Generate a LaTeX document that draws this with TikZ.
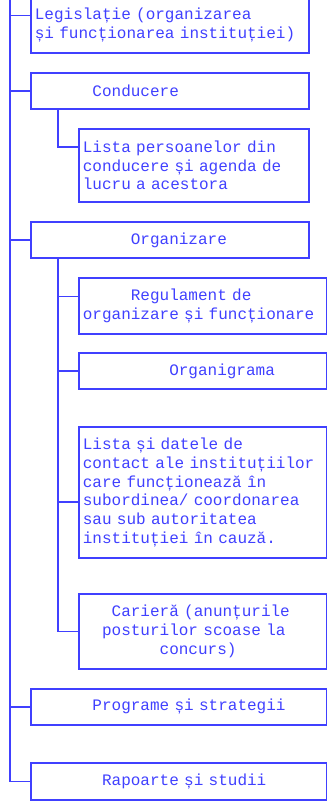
\documentclass[tikz,border=0pt]{standalone}
\usepackage{fontspec}
\setmainfont{Liberation Mono}
\usetikzlibrary{positioning}

\definecolor{ink}{RGB}{64,64,255}
% indent by n monospace characters
\newcommand{\ind}[1]{\hspace*{#1\fontdimen2\font}}

\begin{document}
\begin{tikzpicture}[x=0.75pt, y=-0.75pt,
        box/.style={rectangle, draw=ink, text=ink, line width=1.3pt, anchor=north west,
            inner xsep=3pt, inner ysep=0pt, align=left, font=\fontsize{12}{14}\selectfont},
        link/.style={draw=ink, line width=1.3pt}]

    \useasboundingbox (0,0) rectangle (327,803);

    \node (leg) [box, text width=202.5pt, minimum height=42pt] at (30,-4) {Legislație (organizarea\\și funcționarea instituției)};
    \node (cond) [box, text width=202.5pt, minimum height=27pt] at (30,72) {\ind{6}Conducere};
    \node (lpc) [box, text width=166.5pt, minimum height=54.75pt] at (78,128) {Lista persoanelor din\\conducere și agenda de\\lucru a acestora};
    \node (org) [box, text width=202.5pt, minimum height=27pt] at (30,221) {\ind{10}Organizare};
    \node (reg) [box, text width=180pt, minimum height=42pt] at (78,277) {\ind{5}Regulament de\\organizare și funcționare};
    \node (ogr) [box, text width=180pt, minimum height=27pt] at (78,352) {\ind{9}Organigrama};
    \node (lsd) [box, text width=180pt, minimum height=98.25pt] at (78,426) {Lista și datele de\\contact ale instituțiilor\\care funcționează în\\subordinea/ coordonarea\\sau sub autoritatea\\instituției în cauză.};
    \node (car) [box, text width=180pt, minimum height=56.25pt] at (78,593) {\ind{3}Carieră (anunțurile\\\ind{2}posturilor scoase la\\\ind{8}concurs)};
    \node (prg) [box, text width=216pt, minimum height=27pt] at (30,688) {\ind{6}Programe și strategii};
    \node (rap) [box, text width=216pt, minimum height=27.75pt] at (30,762) {\ind{7}Rapoarte și studii};

    % main trunk
    \coordinate (trunk) at (10,-5);
    \draw[link] (trunk) |- (rap.west);
    \draw[link] ([yshift=7pt]leg.west) -- ++(-20,0);
    \draw[link] (cond.west) -- ++(-20,0);
    \draw[link] (org.west) -- ++(-20,0);
    \draw[link] (prg.west) -- ++(-20,0);

    % sub trunks
    \draw[link] ([xshift=21pt]cond.south west) |- ([yshift=14pt]lpc.west);
    \draw[link] ([xshift=21pt]org.south west) |- (car.west);
    \draw[link] ([yshift=7pt]reg.west) -- ++(-20,0);
    \draw[link] (ogr.west) -- ++(-20,0);
    \draw[link] ([yshift=-7pt]lsd.west) -- ++(-20,0);

\end{tikzpicture}
\end{document}
